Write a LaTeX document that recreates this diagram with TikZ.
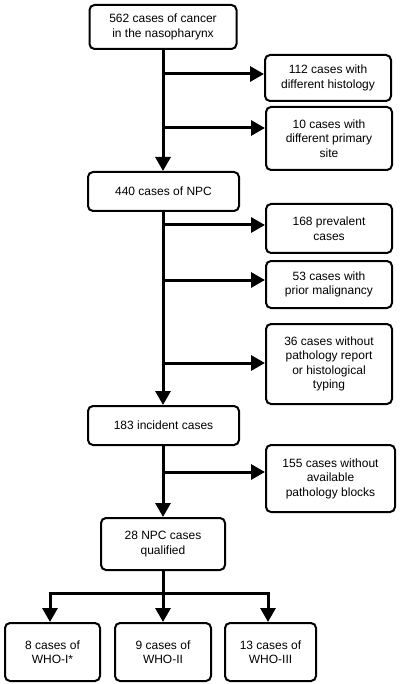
\documentclass[tikz,border=0pt]{standalone}
\usepackage{fontspec}
\setmainfont{Liberation Sans}
\usetikzlibrary{arrows.meta}
\begin{document}
\begin{tikzpicture}[x=1pt,y=-1pt,
  box/.style={draw, line width=2pt, rounded corners=5pt, align=center,
    font=\fontsize{12}{14.5}\selectfont, inner sep=0pt},
  link/.style={line width=3pt},
  flow/.style={link, -{Triangle[length=14pt,width=15pt]}},
]
\useasboundingbox (0,0) rectangle (400,684);
\node[box, minimum width=147pt, minimum height=44pt] (n1) at (163,27) {562 cases of cancer\\in the nasopharynx};
\node[box, minimum width=126pt, minimum height=46pt] (n2) at (328,78) {112 cases with\\different histology};
\node[box, minimum width=126pt, minimum height=63pt] (n3) at (329,138.5) {10 cases with\\different primary\\site};
\node[box, minimum width=151pt, minimum height=39pt] (n4) at (163.5,191.5) {440 cases of NPC};
\node[box, minimum width=126pt, minimum height=49pt] (n5) at (329,228.5) {168 prevalent\\cases};
\node[box, minimum width=126pt, minimum height=47pt] (n6) at (329,284.5) {53 cases with\\prior malignancy};
\node[box, minimum width=126pt, minimum height=80pt] (n7) at (329,364) {36 cases without\\pathology report\\or histological\\typing};
\node[box, minimum width=151pt, minimum height=39pt] (n8) at (163.5,425.5) {183 incident cases};
\node[box, minimum width=129pt, minimum height=67pt] (n9) at (330.5,478.5) {155 cases without\\available\\pathology blocks};
\node[box, minimum width=124pt, minimum height=52pt] (n10) at (163,544) {28 NPC cases\\qualified};
\node[box, minimum width=95pt, minimum height=58pt] (na) at (52.5,652) {8 cases of\\WHO-I*};
\node[box, minimum width=96pt, minimum height=58pt] (nb) at (163,652) {9 cases of\\WHO-II};
\node[box, minimum width=91pt, minimum height=58pt] (nc) at (270.5,652) {13 cases of\\WHO-III};

\coordinate (t1) at (163,49);
\coordinate (b2) at (163,74);
\coordinate (b3) at (163,128);
\coordinate (b5) at (163,225);
\coordinate (b6) at (163,280);
\coordinate (b7) at (163,363);
\coordinate (b9) at (163,472);
\coordinate (split) at (163,593);
\coordinate (sa) at (50,593);
\coordinate (sc) at (268,593);

\draw[flow] (t1) -- (t1 |- n4.north);
\draw[flow] (b2) -- (b2 -| n2.west);
\draw[flow] (b3) -- (b3 -| n3.west);
\draw[flow] (n4.south -| t1) -- (t1 |- n8.north);
\draw[flow] (b5) -- (b5 -| n5.west);
\draw[flow] (b6) -- (b6 -| n6.west);
\draw[flow] (b7) -- (b7 -| n7.west);
\draw[flow] (n8.south -| t1) -- (t1 |- n10.north);
\draw[flow] (b9) -- (b9 -| n9.west);
\draw[link] (n10.south) -- (split);
\draw[link] ([xshift=-1.5pt]sa) -- ([xshift=1.5pt]sc);
\draw[flow] (sa) -- (sa |- na.north);
\draw[flow] (split) -- (nb.north);
\draw[flow] (sc) -- (sc |- nc.north);
\end{tikzpicture}
\end{document}
